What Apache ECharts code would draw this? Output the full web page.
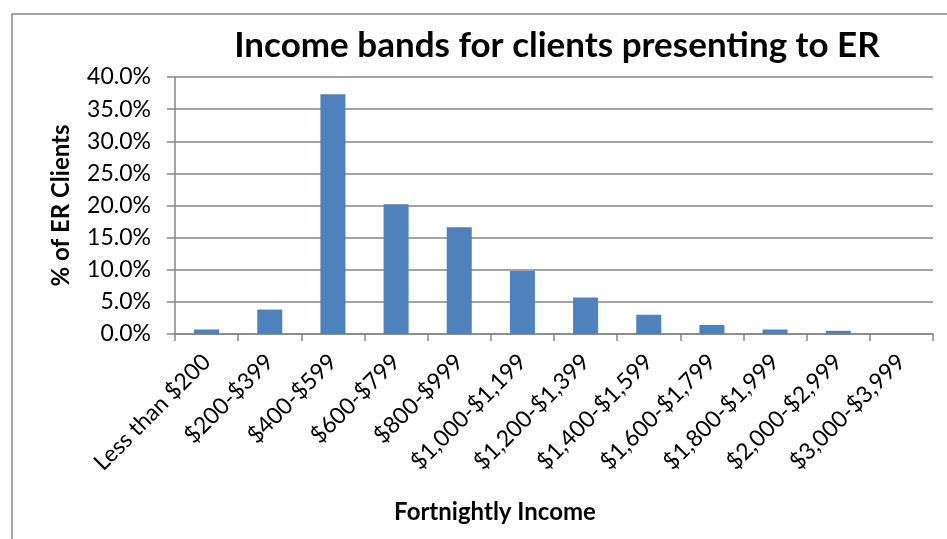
<!DOCTYPE html>
<html>
<head>
<meta charset="utf-8">
<script src="https://cdn.jsdelivr.net/npm/echarts@6/dist/echarts.min.js"></script>
<style>
  html, body { margin: 0; padding: 0; background: #fff; }
  #chart { width: 947px; height: 539px; }
</style>
</head>
<body>
<div id="chart"></div>
<script>
// income bands and share of ER clients (%)
var bands = ['Less than $200', '$200-$399', '$400-$599', '$600-$799', '$800-$999',
  '$1,000-$1,199', '$1,200-$1,399', '$1,400-$1,599', '$1,600-$1,799',
  '$1,800-$1,999', '$2,000-$2,999', '$3,000-$3,999'];
var share = [0.7, 3.8, 37.3, 20.2, 16.6, 9.8, 5.7, 3.0, 1.4, 0.7, 0.5, 0.0];

var font = 'Lato, "Open Sans", sans-serif';
var grey = '#868686';

var chart = echarts.init(document.getElementById('chart'));
var option = {
	animation: false,
	textStyle: { fontFamily: font },
	title: [
		{
			text: 'Income bands for clients presenting to ER',
			left: 552,
			top: 23,
			textAlign: 'center',
			textStyle: { fontFamily: font, fontSize: 35, fontWeight: 'bold', color: '#000' }
		},
		{
			text: 'Fortnightly Income',
			left: 490,
			top: 495,
			textAlign: 'center',
			textStyle: { fontFamily: font, fontSize: 24, fontWeight: 'bold', color: '#000' }
		}
	],
	graphic: [{
		type: 'rect',
		shape: { x: 12, y: 14, width: 960, height: 560 },
		style: { fill: 'none', stroke: grey, lineWidth: 1.5 },
		silent: true
	}],
	grid: { left: 175, right: 14, top: 77, bottom: 205 },
	xAxis: {
		type: 'category',
		data: bands,
		axisLine: { lineStyle: { color: grey, width: 1.5 } },
		axisTick: { show: true, length: 7, lineStyle: { color: grey, width: 1.5 } },
		axisLabel: { interval: 0, rotate: 45, fontSize: 23, color: '#000', margin: 24, fontFamily: font }
	},
	yAxis: {
		type: 'value',
		min: 0,
		max: 40,
		interval: 5,
		name: '% of ER Clients',
		nameLocation: 'middle',
		nameGap: 102,
		nameTextStyle: { fontSize: 24, fontWeight: 'bold', color: '#000', fontFamily: font },
		axisLine: { show: true, lineStyle: { color: grey, width: 1.5 } },
		axisTick: { show: true, length: 8, lineStyle: { color: grey, width: 1.5 } },
		axisLabel: {
			fontSize: 23, color: '#000', margin: 24, fontFamily: font,
			formatter: function(v) { return v.toFixed(1) + '%'; }
		},
		splitLine: { lineStyle: { color: grey, width: 1.5 } }
	},
	series: [{
		type: 'bar',
		data: share,
		barWidth: 25,
		itemStyle: { color: '#4F81BD' }
	}]
};
chart.setOption(option);
</script>
</body>
</html>
